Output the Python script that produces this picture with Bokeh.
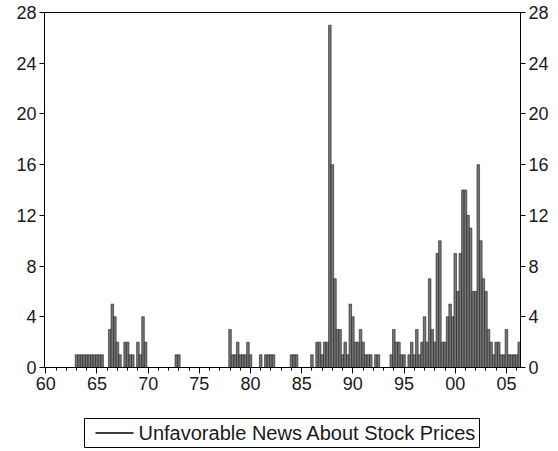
from bokeh.plotting import figure
from bokeh.layouts import column
from bokeh.models import FixedTicker, LinearAxis, Range1d, ColumnDataSource
from bokeh.core.properties import value
from bokeh.embed import file_html
from bokeh.resources import INLINE

# Quarterly observations, 1960Q1 .. 2006Q2
start_year = 1960
values = [
    0, 0, 0, 0, 0, 0, 0, 0, 0, 0, 0, 0,          # 1960-1962
    1, 1, 1, 1, 1, 1, 1, 1, 1, 1, 1,             # 1963Q1-1965Q3
    0, 0,                                        # 1965Q4-1966Q1
    3, 5, 4, 2, 1, 0, 2, 2, 1, 1, 0, 2, 1, 4, 2, # 1966Q2-1969Q4
    0, 0, 0, 0, 0, 0, 0, 0, 0, 0, 0,             # 1970Q1-1972Q3
    1, 1,                                        # 1972Q4-1973Q1
    0, 0, 0, 0, 0, 0, 0, 0, 0, 0, 0, 0, 0, 0, 0, 0, 0, 0, 0,  # 1973Q2-1977Q4
    3, 1, 1, 2, 1, 1, 1, 2, 1,                   # 1978Q1-1980Q1
    0, 0, 0, 1, 0, 1, 1, 1, 1,                   # 1980Q2-1982Q2
    0, 0, 0, 0, 0, 0,                            # 1982Q3-1983Q4
    1, 1, 1,                                     # 1984Q1-1984Q3
    0, 0, 0, 0, 0,                               # 1984Q4-1985Q4
    1, 0, 2, 2, 1, 2, 2, 27,                     # 1986Q1-1987Q4
    16, 7, 3, 3, 1, 2, 1, 5, 4, 2, 2, 3, 2,      # 1988Q1-1991Q1
    1, 1, 1, 0, 1, 1,                            # 1991Q2-1992Q3
    0, 0, 0, 0,                                  # 1992Q4-1993Q3
    1, 3, 2, 2, 1, 1, 0, 1, 2, 1, 3, 1, 2, 4, 2, # 1993Q4-1997Q2
    7, 3, 2, 9, 10, 2, 2, 4, 5, 4,               # 1997Q3-1999Q4
    9, 6, 9, 14, 14, 12, 11, 6, 6, 16, 10, 7,    # 2000Q1-2002Q4
    6, 3, 2, 1, 2, 2, 1, 1, 3, 1, 1, 1, 1, 2,    # 2003Q1-2006Q2
]
tick_years = [1960, 1965, 1970, 1975, 1980, 1985, 1990, 1995, 2000, 2005]
tick_labels = ["60", "65", "70", "75", "80", "85", "90", "95", "00", "05"]
y_ticks = [0, 4, 8, 12, 16, 20, 24, 28]
series_name = "Unfavorable News About Stock Prices"

x = [start_year + i * 0.25 for i in range(len(values))]
src = ColumnDataSource(dict(x=x, top=values))

FONT = "Liberation Sans"
p = figure(width=558, height=400, output_backend="svg", toolbar_location=None,
           x_range=Range1d(start_year - 0.125, x[-1] + 0.125), y_range=Range1d(0, 28),
           min_border_left=44, min_border_right=38, min_border_top=12, min_border_bottom=33)
p.background_fill_color = "white"
p.border_fill_color = "white"
p.outline_line_color = "black"
p.outline_line_width = 1
p.xgrid.visible = False
p.ygrid.visible = False

p.vbar(x="x", top="top", width=0.25, bottom=0, source=src,
       fill_color="#767676", line_color="#1e1e1e", line_width=0.6)

# axes
p.xaxis.ticker = FixedTicker(ticks=tick_years, minor_ticks=list(range(1960, 2007)))
p.xaxis.major_label_overrides = {t: l for t, l in zip(tick_years, tick_labels)}
p.yaxis.ticker = FixedTicker(ticks=y_ticks)
right = LinearAxis(ticker=FixedTicker(ticks=y_ticks))
p.add_layout(right, "right")

for ax in p.axis:
    ax.axis_line_color = "black"
    ax.axis_line_width = 1
    ax.major_tick_line_color = "black"
    ax.minor_tick_line_color = "black"
    ax.major_tick_in = 0
    ax.major_tick_out = 5
    ax.minor_tick_in = 0
    ax.minor_tick_out = 3
    ax.major_label_text_font = FONT
    ax.major_label_text_font_size = "18px"
    ax.major_label_text_color = "#1a1a1a"
    ax.major_label_standoff = 3
p.yaxis.minor_tick_line_color = None
right.minor_tick_line_color = None
p.xaxis.major_tick_out = 6

# legend strip below the chart; its frame spans page pixels 44..520
leg = figure(width=558, height=51, output_backend="svg", toolbar_location=None,
             x_range=Range1d(44, 520), y_range=Range1d(0, 51),
             x_axis_type=None, y_axis_type=None,
             min_border_left=44, min_border_right=38, min_border_top=0, min_border_bottom=0)
leg.outline_line_color = None
leg.background_fill_color = "white"
leg.border_fill_color = "white"
leg.grid.visible = False
leg.quad(left=[84], right=[479], bottom=[4], top=[33],
         fill_color="white", line_color="black", line_width=1)
leg.line(x=[95, 133], y=[18.5, 18.5], line_color="black", line_width=1.3)
leg.text(x=[138], y=[18.5], text=[series_name], text_baseline="middle",
         text_align="left", text_font=value(FONT), text_font_size="20px",
         text_color="#1a1a1a")

layout = column(p, leg, spacing=0)
open("out.html", "w").write(file_html(layout, INLINE))
